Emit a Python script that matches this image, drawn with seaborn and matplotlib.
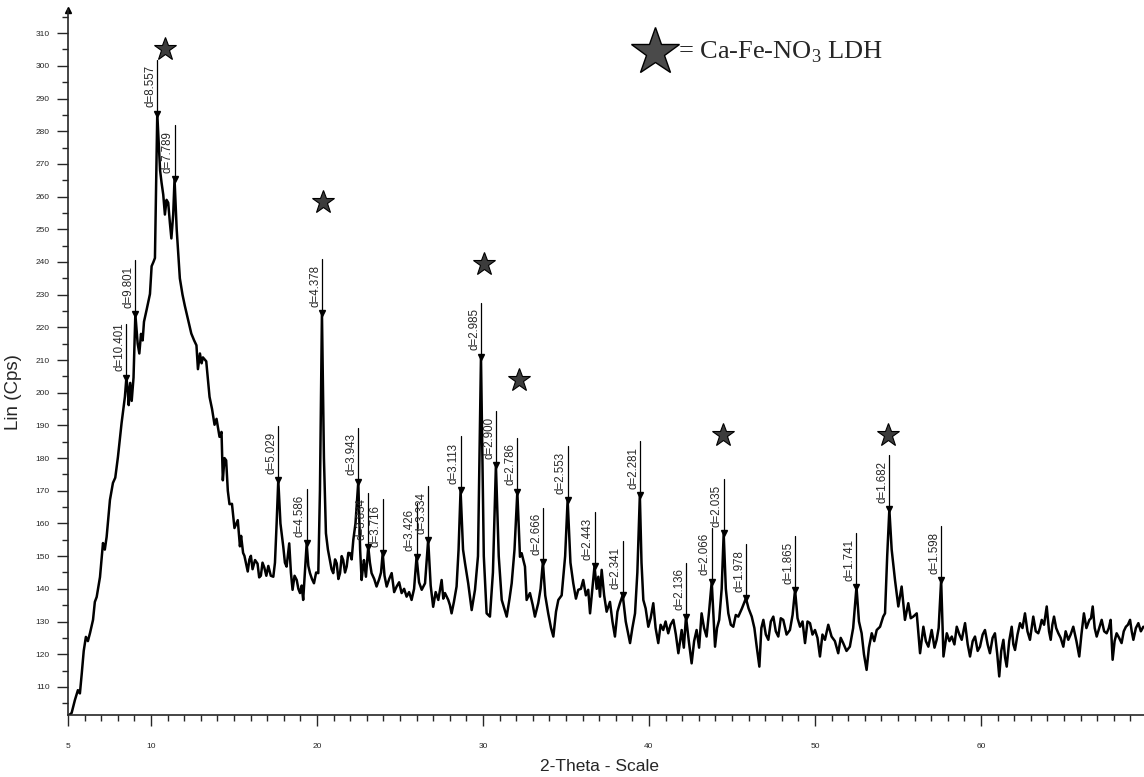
import matplotlib
matplotlib.use("Agg")
import matplotlib.pyplot as plt
import seaborn as sns
import pandas as pd
from matplotlib.ticker import MultipleLocator

# XRD pattern (2-theta in degrees, intensity in Cps)
two_theta = [
    5.10, 5.22, 5.42, 5.60, 5.72, 5.83, 5.95, 6.08, 6.20, 6.33,
    6.51, 6.62, 6.73, 6.93, 7.11, 7.22, 7.33, 7.53, 7.71, 7.85,
    8.01, 8.23, 8.43, 8.52, 8.60, 8.66, 8.75, 8.84, 8.95, 9.06,
    9.20, 9.30, 9.40, 9.50, 9.58, 9.74, 9.94, 10.04, 10.15, 10.24,
    10.38, 10.55, 10.64, 10.74, 10.84, 10.94, 11.04, 11.14, 11.23, 11.34,
    11.42, 11.55, 11.74, 11.90, 12.04, 12.25, 12.43, 12.60, 12.74, 12.83,
    12.95, 13.05, 13.13, 13.33, 13.43, 13.53, 13.68, 13.83, 13.95, 14.13,
    14.25, 14.33, 14.43, 14.53, 14.63, 14.73, 14.88, 15.03, 15.23, 15.36,
    15.43, 15.55, 15.63, 15.83, 15.93, 16.02, 16.12, 16.27, 16.42, 16.52,
    16.62, 16.72, 16.83, 16.95, 17.07, 17.22, 17.37, 17.47, 17.57, 17.67,
    17.80, 17.97, 18.07, 18.17, 18.33, 18.43, 18.53, 18.65, 18.78, 18.88,
    18.98, 19.08, 19.17, 19.27, 19.38, 19.48, 19.58, 19.70, 19.82, 19.95,
    20.08, 20.18, 20.30, 20.42, 20.54, 20.66, 20.78, 20.88, 20.98, 21.09,
    21.19, 21.29, 21.39, 21.49, 21.58, 21.69, 21.79, 21.89, 21.99, 22.09,
    22.19, 22.32, 22.49, 22.60, 22.69, 22.76, 22.83, 22.95, 23.09, 23.19,
    23.29, 23.45, 23.59, 23.75, 23.86, 23.96, 24.07, 24.20, 24.35, 24.50,
    24.65, 24.80, 24.95, 25.10, 25.25, 25.40, 25.55, 25.70, 25.85, 26.00,
    26.15, 26.31, 26.51, 26.70, 26.85, 27.00, 27.15, 27.31, 27.51, 27.61,
    27.71, 27.91, 28.01, 28.11, 28.25, 28.41, 28.53, 28.65, 28.80, 28.92,
    29.11, 29.32, 29.52, 29.70, 29.88, 30.05, 30.22, 30.42, 30.60, 30.78,
    30.95, 31.13, 31.43, 31.60, 31.73, 31.90, 32.07, 32.23, 32.33, 32.53,
    32.63, 32.83, 33.00, 33.13, 33.33, 33.47, 33.61, 33.75, 33.93, 34.10,
    34.24, 34.40, 34.54, 34.74, 34.95, 35.10, 35.27, 35.44, 35.60, 35.74,
    35.90, 36.04, 36.20, 36.34, 36.45, 36.72, 36.85, 36.95, 37.05, 37.15,
    37.30, 37.45, 37.65, 37.80, 37.95, 38.10, 38.25, 38.42, 38.60, 38.86,
    39.00, 39.16, 39.30, 39.45, 39.55, 39.66, 39.80, 39.96, 40.10, 40.26,
    40.40, 40.56, 40.70, 40.86, 41.00, 41.16, 41.30, 41.47, 41.62, 41.77,
    41.97, 42.10, 42.23, 42.40, 42.57, 42.72, 42.87, 43.02, 43.17, 43.32,
    43.47, 43.62, 43.78, 43.98, 44.10, 44.23, 44.38, 44.50, 44.63, 44.78,
    44.93, 45.08, 45.23, 45.38, 45.60, 45.84, 46.00, 46.19, 46.35, 46.49,
    46.65, 46.77, 46.89, 47.04, 47.19, 47.34, 47.49, 47.64, 47.79, 47.94,
    48.09, 48.29, 48.49, 48.65, 48.80, 48.95, 49.10, 49.25, 49.40, 49.55,
    49.70, 49.85, 50.00, 50.15, 50.30, 50.45, 50.60, 50.80, 51.00, 51.20,
    51.40, 51.55, 51.70, 51.90, 52.10, 52.30, 52.50, 52.65, 52.81, 52.95,
    53.11, 53.25, 53.42, 53.57, 53.72, 53.92, 54.11, 54.22, 54.35, 54.48,
    54.62, 54.82, 55.02, 55.22, 55.42, 55.62, 55.77, 55.92, 56.13, 56.33,
    56.53, 56.68, 56.83, 57.03, 57.20, 57.33, 57.45, 57.60, 57.74, 57.94,
    58.10, 58.24, 58.40, 58.54, 58.70, 58.84, 59.04, 59.20, 59.34, 59.50,
    59.64, 59.80, 59.94, 60.10, 60.24, 60.40, 60.54, 60.70, 60.84, 60.98,
    61.10, 61.22, 61.35, 61.45, 61.55, 61.70, 61.85, 61.95, 62.05, 62.20,
    62.35, 62.50, 62.65, 62.80, 62.95, 63.05, 63.15, 63.30, 63.45, 63.55,
    63.66, 63.80, 63.96, 64.10, 64.20, 64.30, 64.40, 64.53, 64.66, 64.80,
    64.96, 65.10, 65.26, 65.40, 65.56, 65.75, 65.92, 66.05, 66.20, 66.35,
    66.53, 66.63, 66.73, 66.85, 66.97, 67.12, 67.27, 67.42, 67.57, 67.70,
    67.81, 67.93, 68.05, 68.17, 68.32, 68.47, 68.60, 68.73, 68.85, 68.98,
    69.08, 69.18, 69.33, 69.48, 69.63, 69.78,
]
counts = [
    101.5, 102.0, 106.0, 109.0, 108.0, 114.0, 121.0, 125.3, 124.0, 126.5,
    130.5, 136.0, 137.5, 143.6, 154.0, 152.0, 155.9, 167.2, 172.4, 174.0,
    180.3, 190.7, 198.7, 204.6, 201.0, 196.2, 203.0, 197.5, 204.6, 224.0,
    215.0, 212.0, 218.0, 216.0, 221.7, 225.4, 230.2, 238.7, 240.0, 241.2,
    285.4, 268.0, 264.2, 260.6, 254.5, 259.0, 258.1, 252.0, 247.2, 254.5,
    265.4, 250.0, 235.0, 230.0, 226.6, 222.0, 218.1, 216.0, 214.5, 207.2,
    212.0, 209.0, 210.8, 209.6, 204.0, 198.7, 195.0, 190.2, 192.0, 186.5,
    188.0, 173.2, 180.0, 179.3, 170.0, 165.9, 166.0, 158.6, 161.0, 153.0,
    156.2, 151.0, 150.1, 145.3, 149.0, 150.1, 146.0, 148.8, 147.7, 143.5,
    144.0, 148.0, 146.5, 144.0, 147.0, 144.0, 143.7, 148.0, 160.0, 173.3,
    160.0, 152.9, 148.0, 146.8, 153.9, 145.0, 139.7, 144.0, 142.7, 140.0,
    138.7, 141.0, 136.6, 145.0, 153.9, 147.0, 144.8, 143.0, 141.7, 145.0,
    144.8, 170.0, 224.4, 180.0, 157.0, 152.0, 148.8, 146.0, 144.8, 149.0,
    147.8, 143.0, 144.8, 150.0, 148.8, 145.0, 146.8, 151.0, 150.9, 149.0,
    155.0, 160.0, 172.8, 152.0, 142.7, 146.0, 148.8, 143.7, 152.9, 148.0,
    144.8, 143.0, 140.7, 143.0, 145.0, 150.9, 144.0, 140.7, 143.0, 144.8,
    139.0, 140.7, 142.0, 138.7, 140.0, 137.6, 139.0, 136.6, 140.0, 149.8,
    142.0, 139.7, 141.7, 155.0, 141.0, 134.5, 139.0, 136.6, 142.7, 137.0,
    138.7, 136.6, 135.0, 132.5, 136.0, 140.7, 152.0, 170.2, 152.0, 147.8,
    141.7, 133.5, 139.7, 150.0, 211.0, 150.0, 132.5, 131.5, 145.0, 177.9,
    150.0, 136.6, 131.5, 137.0, 141.7, 152.0, 169.7, 149.8, 150.9, 146.8,
    136.6, 138.7, 135.0, 131.5, 135.6, 140.0, 148.3, 138.0, 132.5, 128.0,
    125.4, 133.0, 136.6, 138.0, 150.0, 167.2, 148.0, 141.7, 137.0, 139.7,
    140.0, 142.7, 138.0, 139.7, 132.5, 147.0, 140.0, 143.7, 137.6, 145.8,
    138.0, 133.0, 136.0, 130.0, 125.4, 133.0, 135.6, 138.1, 130.0, 123.4,
    128.0, 132.5, 145.0, 168.7, 148.0, 136.6, 134.0, 128.4, 131.0, 135.6,
    128.0, 123.4, 129.0, 127.4, 130.0, 126.4, 129.0, 130.5, 126.0, 120.3,
    127.4, 122.0, 131.5, 124.0, 117.2, 124.0, 127.4, 122.0, 132.5, 128.0,
    125.4, 133.0, 142.2, 122.3, 128.0, 130.5, 140.0, 157.0, 140.0, 132.5,
    129.0, 128.4, 132.0, 131.5, 134.0, 137.1, 134.0, 131.5, 128.0, 122.3,
    116.2, 128.0, 130.5, 126.0, 124.4, 130.0, 131.5, 127.0, 125.4, 131.0,
    130.5, 126.0, 127.4, 132.0, 139.7, 131.0, 128.4, 130.0, 123.4, 130.0,
    129.5, 126.0, 127.4, 125.0, 119.3, 126.0, 124.4, 129.0, 125.4, 124.0,
    120.3, 125.0, 123.4, 121.0, 122.3, 128.0, 140.6, 130.0, 126.4, 120.0,
    115.2, 122.0, 126.4, 124.0, 127.4, 128.4, 131.5, 132.5, 150.0, 164.3,
    152.0, 142.7, 134.6, 140.7, 130.5, 135.6, 131.0, 131.5, 132.5, 120.3,
    128.4, 124.0, 122.3, 127.4, 122.0, 124.4, 128.0, 142.7, 119.3, 126.4,
    124.0, 125.4, 123.0, 128.4, 126.0, 124.4, 129.5, 123.0, 119.3, 124.0,
    125.4, 121.0, 122.3, 126.0, 127.4, 123.0, 120.3, 125.0, 126.4, 120.0,
    113.2, 121.0, 124.4, 119.0, 116.2, 124.0, 128.4, 123.0, 121.3, 126.0,
    129.5, 128.0, 132.5, 127.0, 124.4, 128.0, 131.5, 127.0, 126.4, 128.0,
    130.5, 129.0, 134.6, 127.0, 124.4, 129.0, 131.5, 128.0, 126.4, 125.0,
    122.3, 127.0, 124.4, 126.0, 128.4, 124.0, 119.3, 126.0, 132.5, 128.0,
    130.5, 131.0, 134.6, 128.0, 125.4, 128.0, 130.5, 127.0, 126.4, 128.0,
    130.5, 118.3, 124.0, 126.4, 125.0, 123.4, 127.0, 128.4, 129.0, 130.5,
    127.0, 124.4, 128.0, 129.5, 127.0, 128.4,
]

# labelled reflections (d-spacings in Angstrom)
peak_theta = [8.52, 9.06, 10.38, 11.42, 17.67, 19.38, 20.30, 22.49, 23.09, 23.96,
              26.00, 26.70, 28.65, 29.88, 30.78, 32.07, 33.61, 35.10, 36.72, 38.42,
              39.45, 42.23, 43.78, 44.50, 45.84, 48.80, 52.50, 54.48, 57.60]
peak_counts = [204.6, 224.0, 285.4, 265.4, 173.3, 153.9, 224.4, 172.8, 152.9, 150.9,
               149.8, 155.0, 170.2, 211.0, 177.9, 169.7, 148.3, 167.2, 147.0, 138.1,
               168.7, 131.5, 142.2, 157.0, 137.1, 139.7, 140.6, 164.3, 142.7]
peak_labels = ["d=10.401", "d=9.801", "d=8.557", "d=7.789", "d=5.029", "d=4.586",
               "d=4.378", "d=3.943", "d=3.834", "d=3.716", "d=3.426", "d=3.334",
               "d=3.113", "d=2.985", "d=2.900", "d=2.786", "d=2.666", "d=2.553",
               "d=2.443", "d=2.341", "d=2.281", "d=2.136", "d=2.066", "d=2.035",
               "d=1.978", "d=1.865", "d=1.741", "d=1.682", "d=1.598"]

# LDH reflections marked with a star
star_theta = [10.84, 20.36, 30.06, 32.17, 44.46, 54.40]
star_counts = [305.3, 258.4, 239.4, 203.9, 187.0, 187.0]

sns.set_style("ticks")
plt.rcParams['font.family'] = ['Liberation Sans', 'DejaVu Sans']
plt.rcParams['mathtext.fontset'] = 'custom'
plt.rcParams['mathtext.rm'] = 'Liberation Serif'

fig = plt.figure(figsize=(11.44, 7.77), dpi=100)
ax = fig.add_axes([0.0594, 0.0798, 0.9406, 0.907])

df = pd.DataFrame({"two_theta": two_theta, "counts": counts})
sns.lineplot(data=df, x="two_theta", y="counts", color="black", linewidth=1.8,
             sort=False, ax=ax)

# peak markers with underlined, rotated d-spacing labels
ax.plot(peak_theta, peak_counts, linestyle="none", marker="v", markersize=5,
        color="black")
for x, y, lab in zip(peak_theta, peak_counts, peak_labels):
    ax.plot([x, x], [y, y + 16.5], color="black", linewidth=0.9)
    ax.annotate(lab, xy=(x, y), xytext=(-0.6, 4.5), textcoords="offset points",
                rotation=90, ha="right", va="bottom", fontsize=8.3)

ax.plot(star_theta, star_counts, linestyle="none", marker="*", markersize=17,
        markerfacecolor="#3c3c3c", markeredgecolor="black", markeredgewidth=0.8)

# legend-style key in the top right
ax.plot([40.36], [304.2], marker="*", markersize=36, markerfacecolor="#4a4a4a",
        markeredgecolor="black", markeredgewidth=1.0)
ax.text(41.75, 304.2, "= Ca-Fe-NO$_{3}$ LDH", fontsize=19, va="center", ha="left",
        family=["Liberation Serif", "DejaVu Serif"])

ax.set_xlim(5, 69.82)
ax.set_ylim(101.4, 317)
ax.set_xticks([5, 10, 20, 30, 40, 50, 60])
ax.xaxis.set_minor_locator(MultipleLocator(1))
ax.set_yticks(range(110, 311, 10))
ax.yaxis.set_minor_locator(MultipleLocator(5))
ax.tick_params(axis="both", which="major", direction="out", length=8, width=1,
               labelsize=6)
ax.tick_params(axis="x", which="major", pad=12)
ax.tick_params(axis="y", which="major", pad=5)
ax.tick_params(axis="both", which="minor", direction="out", length=4, width=1)
ax.spines["left"].set_linewidth(1.2)
ax.spines["bottom"].set_linewidth(1.2)
sns.despine(ax=ax)
ax.plot([0], [1.0], marker="^", markersize=4, color="black", transform=ax.transAxes,
        clip_on=False)

ax.set_xlabel("2-Theta - Scale", fontsize=12.5)
ax.xaxis.set_label_coords(0.494, -0.062)
ax.set_ylabel("Lin (Cps)", fontsize=13.5)
ax.yaxis.set_label_coords(-0.043, 0.458)

fig.savefig("out.png", dpi=100, facecolor="white")
